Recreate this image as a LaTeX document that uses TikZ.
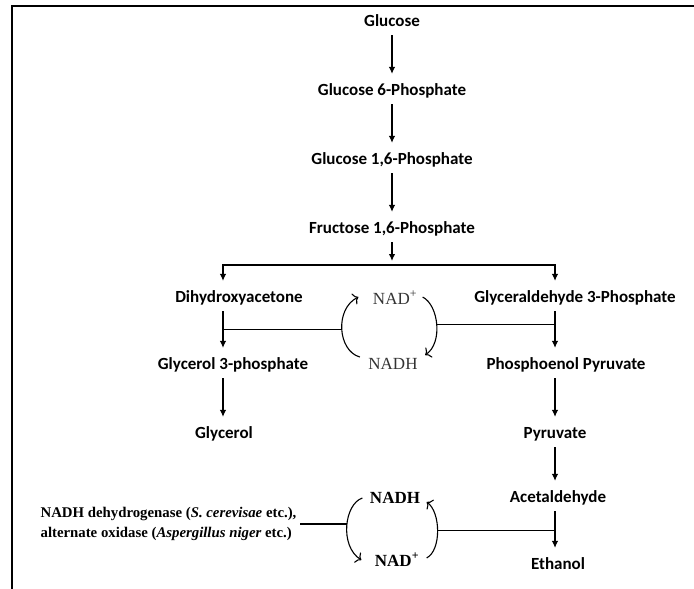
\documentclass[tikz,border=0pt]{standalone}
\usepackage{fontspec}
\setmainfont{Liberation Serif}
\newfontfamily\calfont{Carlito}
\usetikzlibrary{arrows.meta}

\begin{document}
\begin{tikzpicture}[x=1pt,y=-1pt,line width=1.2pt,met/.style={font=\calfont\bfseries\fontsize{17}{20}\selectfont,text height=12pt,text depth=3pt,inner xsep=0pt,inner ysep=5pt},flow/.style={-{Latex[length=7pt,width=6.5pt]},shorten >=4pt},cof/.style={font=\fontsize{17}{20}\selectfont,black!80,text height=12pt,text depth=0pt,inner sep=0pt},cofB/.style={cof,black,font=\bfseries\fontsize{17}{20}\selectfont},cyc/.style={-{To[length=5pt,width=12pt]},line width=1.1pt},enz/.style={font=\bfseries\fontsize{14.8}{20}\selectfont,align=left,inner xsep=3pt},frame/.style={line width=2pt}]
\def\xm{392};
\def\xl{223};
\def\xr{555};

\useasboundingbox (0,0) rectangle (694,589);
\draw[frame] (12,589) -- (12,6) -- (694,6);

\coordinate (colL) at (\xl,0);
\coordinate (colR) at (\xr,0);

\node[met] (glc) at (\xm,22) {Glucose};
\node[met] (g6p) at (\xm,91) {Glucose 6-Phosphate};
\node[met] (g16p) at (\xm,160) {Glucose 1,6-Phosphate};
\node[met] (f16p) at (\xm,229) {Fructose 1,6-Phosphate};
\coordinate (split) at (\xm,265);
\draw[flow] (glc.south) -- (g6p.north);
\draw[flow] (g6p.south) -- (g16p.north);
\draw[flow] (g16p.south) -- (f16p.north);
\draw[flow] (f16p.south) -- (split);

%LEFT BRANCH
\node[met] (dha) at (239,298) {Dihydroxyacetone};
\node[met] (g3p) at (233,365) {Glycerol 3-phosphate};
\node[met] (gly) at (224,434) {Glycerol};
\draw[flow] (split) -| (dha.north -| colL);
\draw[flow] (dha.south -| colL) -- (g3p.north -| colL);
\draw[flow] (g3p.south -| colL) -- (gly.north -| colL);

%RIGHT BRANCH
\node[met] (gap) at (575,298) {Glyceraldehyde 3-Phosphate};
\node[met] (pep) at (566,365) {Phosphoenol Pyruvate};
\node[met] (pyr) at (\xr,434) {Pyruvate};
\node[met] (acal) at (558,498) {Acetaldehyde};
\node[met] (eth) at (558,565) {Ethanol};
\draw[flow] (split) -| (gap.north -| colR);
\draw[flow] (gap.south -| colR) -- (pep.north -| colR);
\draw[flow] (pep.south -| colR) -- (pyr.north);
\draw[flow] (pyr.south) -- (acal.north -| colR);
\draw[flow] (acal.south -| colR) -- (eth.north -| colR);

%NAD CYCLE
\node[cof] (nadp) at (395,298) {NAD\textsuperscript{+}};
\node[cof] (nadh) at (393,363) {NADH};
\draw[cyc] ([shift={(-8,-6)}]nadh.west) .. controls +(-22,-6) and +(-24,12) .. coordinate[pos=0.5] (tl) ([shift={(-14,-1)}]nadp.west);
\draw[cyc] ([shift={(5,-1)}]nadp.east) .. controls +(16,8) and +(18,-12) .. coordinate[pos=0.5] (tr) ([shift={(7,-8)}]nadh.east);
\draw (tl) -- (tl -| colL);
\draw (tr) -- (tr -| colR);

%NADH CYCLE
\node[cofB] (nadh2) at (395,497) {NADH};
\node[cofB] (nadp2) at (397,560) {NAD\textsuperscript{+}};
\node[enz,anchor=west] (enz) at (37,524) {NADH dehydrogenase (\textit{S. cerevisae} etc.),\\alternate oxidase (\textit{Aspergillus niger} etc.)};
\draw[cyc] ([shift={(-7,1)}]nadh2.west) .. controls +(-18,6) and +(-22,-14) .. coordinate[pos=0.5] (bl) ([shift={(-13,0)}]nadp2.west);
\draw[cyc] ([shift={(7,-2)}]nadp2.east) .. controls +(15,-8) and +(14,10) .. coordinate[pos=0.5] (br) ([shift={(6,5)}]nadh2.east);
\draw (enz.east) -- (enz.east -| bl);
\draw (br) -- (br -| colR);
\end{tikzpicture}
\end{document}
